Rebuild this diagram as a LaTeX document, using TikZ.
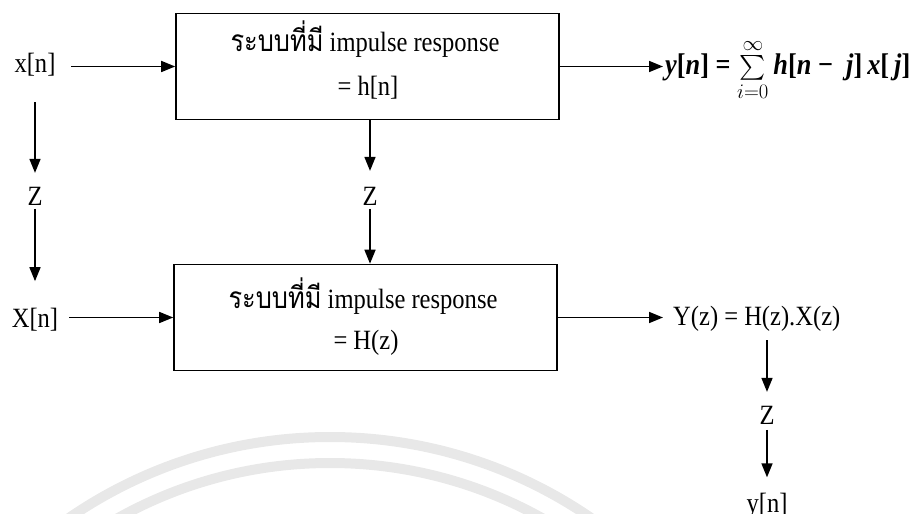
\documentclass[tikz,border=0pt]{standalone}
\usepackage{amsmath}
\usepackage{exscale}
\usepackage{fontspec}
\setmainfont{Liberation Serif}[FakeStretch=0.88]
\newfontfamily\thaifont[Script=Thai,FakeStretch=0.85]{Loma}
\usetikzlibrary{arrows.meta}

\begin{document}
\begin{tikzpicture}[x=1bp,y=-1bp,
  lbl/.style={font=\fontsize{28}{32}\selectfont, inner sep=0pt},
  eqn/.style={font=\fontsize{30}{34}\selectfont\bfseries, inner sep=0pt},
  sysbox/.style={draw, line width=1.6bp, minimum width=383bp, minimum height=106bp, inner sep=0pt},
  arr/.style={line width=1.6bp, -{Triangle[length=14bp,width=11bp]}},
  wmark/.style={draw=black!9, line width=10bp}
]
\useasboundingbox (0,0) rectangle (921,514);
\clip (0,0) rectangle (921,514);

% faint background seal
\draw[wmark] (330,898) circle[radius=461];
\draw[wmark] (330,898) circle[radius=435];

% the two systems
\node[sysbox] (sys1) at (367.5,66.5) {};
\node[sysbox] (sys2) at (365.5,317.5) {};
\node[lbl, anchor=base] (sys1a) at (365,52) {{\thaifont\fontsize{30}{32}\selectfont ระบบที่มี} impulse response};
\node[lbl, anchor=base] (sys1b) at (368,96) {= h[n]};
\node[lbl, anchor=base] (sys2a) at (363,309) {{\thaifont\fontsize{30}{32}\selectfont ระบบที่มี} impulse response};
\node[lbl, anchor=base] (sys2b) at (366,350) {= H(z)};

% inputs on the left
\node[lbl, anchor=base] (xn) at (35,73) {x[n]};
\node[lbl, anchor=base] (z1) at (35,206) {Z};
\node[lbl, anchor=base] (Xn) at (35,328) {X[n]};

% transform between the impulse responses
\node[lbl, anchor=base] (z2) at (370,206) {Z};

% outputs on the right
\node[eqn, anchor=west] (yn1) at (665,70)
  {\textit{y}[\textit{n}] = $\sum\limits_{i=0}^{\infty}$\,\textit{h}[\textit{n} −\ \ \textit{j}]\,\textit{x}[\,\textit{j}]};
\node[lbl, anchor=west] (Yz) at (673,319) {Y(z) = H(z).X(z)};
\node[lbl, anchor=base] (z3) at (767,424) {Z};
\node[lbl, anchor=base] (yn2) at (767,512) {y[n]};

% connectors
\draw[arr] ([xshift=-104bp]sys1.west) -- (sys1.west);
\draw[arr] ([xshift=-104bp]sys2.west) -- (sys2.west);
\draw[arr] (sys1.east) -- ([xshift=-2bp]sys1.east -| yn1.west);
\draw[arr] (sys2.east) -- ([xshift=-10bp]sys2.east -| Yz.west);

\draw[arr, shorten <=37bp, shorten >=24bp] (xn.center) -- (z1.center);
\draw[arr, shorten <=12bp, shorten >=39bp] (z1.center) -- (Xn.center);

\draw[arr] (sys1.south -| z2) -- ([yshift=26bp]z2.center);
\draw[arr] ([yshift=-12bp]z2.center) -- (sys2.north -| z2);

\draw[arr, shorten <=21bp, shorten >=23bp] (Yz.center -| z3) -- (z3.center);
\draw[arr, shorten <=15bp, shorten >=28bp] (z3.center) -- (yn2.center);
\end{tikzpicture}
\end{document}
